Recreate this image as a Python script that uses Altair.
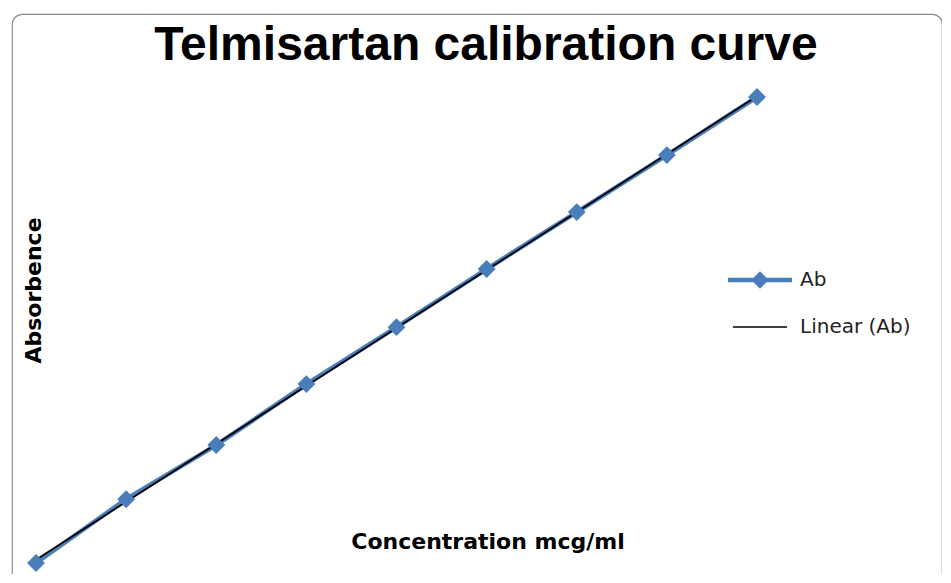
import altair as alt
import pandas as pd

# ---- data ----
concentration = [2, 4, 6, 8, 10, 12, 14, 16, 18]
absorbance = [0.100, 0.212, 0.307, 0.414, 0.514, 0.616, 0.716, 0.816, 0.918]
series_names = ["Ab", "Linear (Ab)"]
series_colors = ["#4a7ebb", "#000000"]
title_text = "Telmisartan calibration curve"
x_title = "Concentration mcg/ml"
y_title = "Absorbence"

df = pd.DataFrame({"conc": concentration, "ab": absorbance})
legend_df = pd.DataFrame({"series": series_names})

BLUE = series_colors[0]
W, H = 930, 572

# legend symbol glyphs (unit coordinates, scaled by sqrt(size)/2)
path_ab = "M-2,-0.14L-0.41,-0.14L0,-0.55L0.41,-0.14L2,-0.14L2,0.14L0.41,0.14L0,0.55L-0.41,0.14L-2,0.14Z"
path_lin = "M-1.69,-0.05L1.69,-0.05L1.69,0.05L-1.69,0.05Z"

x = alt.X(
    "conc:Q",
    scale=alt.Scale(domain=[1.4674, 22.1054], nice=False, zero=False),
    axis=alt.Axis(
        title=x_title, domain=False, ticks=False, labels=False, grid=False,
        titleX=475.5, titleY=-45, titleBaseline="middle", titleAlign="center",
        titleFont="DejaVu Sans", titleFontSize=22, titleFontWeight="bold",
        titleColor="#000000",
    ),
)
y = alt.Y(
    "ab:Q",
    scale=alt.Scale(domain=[0.0596, 1.0637], nice=False, zero=False),
    axis=alt.Axis(
        title=y_title, domain=False, ticks=False, labels=False, grid=False,
        titleX=21.5, titleY=276, titleAngle=270, titleBaseline="middle",
        titleAlign="center", titleFont="DejaVu Sans", titleFontSize=22,
        titleFontWeight="bold", titleColor="#000000",
    ),
)

base = alt.Chart(df).encode(x=x, y=y)

line = base.mark_line(color=BLUE, strokeWidth=4.5)

trend = base.transform_regression("conc", "ab").mark_line(
    color="#000000", strokeWidth=1.8
)

points = base.mark_point(shape="diamond", filled=True, size=320, opacity=1, color=BLUE)

legend_props = dict(
    title=None, orient="none", legendX=732, legendY=250, padding=0,
    symbolSize=1024, labelOffset=24, rowPadding=21, symbolOpacity=1,
    symbolStrokeWidth=0,
    labelFont="DejaVu Sans", labelFontSize=20, labelColor="#222222",
)

legend_layer = alt.Chart(legend_df).mark_point(
    filled=True, size=1024, opacity=0
).encode(
    fill=alt.Fill(
        "series:N",
        scale=alt.Scale(domain=series_names, range=series_colors),
        legend=alt.Legend(**legend_props),
    ),
    shape=alt.Shape(
        "series:N",
        scale=alt.Scale(domain=series_names, range=[path_ab, path_lin]),
        legend=alt.Legend(**legend_props),
    ),
)

chart = (
    alt.layer(line, trend, points, legend_layer)
    .properties(
        width=W,
        height=H,
        title=alt.Title(
            title_text, font="Liberation Sans", fontSize=48, fontWeight="bold",
            color="#000000", anchor="middle", offset=-47, baseline="alphabetic",
            dx=9, dy=47,
        ),
        autosize=alt.AutoSizeParams(type="none"),
        padding={"left": 4, "top": 6, "right": 0, "bottom": -12},
        background="white",
    )
    .configure_view(stroke="#8c8c8c", strokeWidth=1.2, cornerRadius=10)
)

chart.save("out.html", embed_options={"renderer": "svg", "actions": False})
